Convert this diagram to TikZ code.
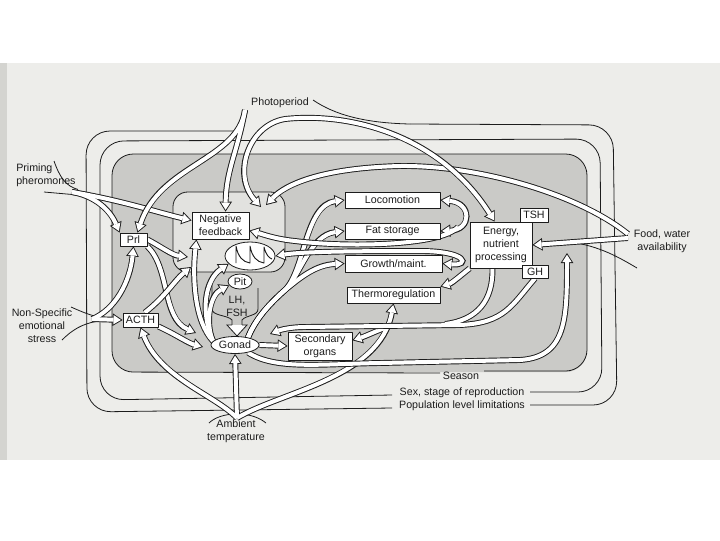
\documentclass[tikz,border=0pt]{standalone}
\usepackage{fontspec}
\setmainfont{Liberation Sans}
\usetikzlibrary{arrows.meta,shapes.geometric}
\pgfdeclarelayer{bg}
\pgfdeclarelayer{mid}
\pgfsetlayers{bg,mid,main}
\definecolor{pagebg}{RGB}{237,237,234}
\definecolor{stripbg}{RGB}{212,212,208}
\definecolor{regbg}{RGB}{202,202,199}
\definecolor{hypbg}{RGB}{226,226,223}
\definecolor{ink}{RGB}{28,28,28}
\tikzset{
  bigtip/.tip={Triangle[length=7.5pt,width=9.5pt,line width=0pt]},
  smalltip/.tip={Triangle[length=5.5pt,width=7pt,line width=0pt]},
  bandout/.style={draw=ink,line width=4.4pt},
  bandin/.style={draw=white,line width=3pt},
  oE/.style={bandout,-{bigtip}},
  iE/.style={bandin,shorten >=1.3pt,-{smalltip}},
  oB/.style={bandout,{bigtip}-{bigtip}},
  iB/.style={bandin,shorten >=1.3pt,shorten <=1.3pt,{smalltip}-{smalltip}},
  oN/.style={bandout},
  iN/.style={bandin},
  thinline/.style={draw=ink,line width=0.6pt},
  box/.style={draw=ink,line width=0.6pt,fill=white,inner sep=0pt,align=center,font=\fontsize{8}{9.75}\selectfont,text=ink},
  oval/.style={box,ellipse},
  lbl/.style={inner sep=0pt,align=center,font=\fontsize{8}{9.75}\selectfont,text=ink},
}
\begin{document}
\begin{tikzpicture}[x=0.75pt,y=-0.75pt,line join=round]
\useasboundingbox (0,0) rectangle (720,540);

% ---------- nodes ----------
\node[box,minimum width=71.25pt,minimum height=12pt] (loco) at (392.5,200) {Locomotion};
\node[box,minimum width=71.25pt,minimum height=12pt] (fat) at (392.5,231) {Fat storage};
\node[box,minimum width=72.75pt,minimum height=12.75pt] (growth) at (393.5,263.5) {Growth/maint.};
\node[box,minimum width=69.75pt,minimum height=12pt] (thermo) at (393.5,295) {Thermoregulation};
\node[box,minimum width=46.5pt,minimum height=34.5pt] (energy) at (501,245) {Energy,\\nutrient\\processing};
\node[box,minimum width=21pt,minimum height=10.5pt] (tsh) at (534,215) {TSH};
\node[box,minimum width=19.5pt,minimum height=9.75pt] (gh) at (535,271.5) {GH};
\node[box,minimum width=42.75pt,minimum height=20.25pt] (nf) at (220.5,225.5) {Negative\\feedback};
\node[box,minimum width=20.25pt,minimum height=9.75pt] (prl) at (133.5,239.5) {Prl};
\node[box,minimum width=26.25pt,minimum height=10.5pt] (acth) at (140.5,320) {ACTH};
\node[box,minimum width=48pt,minimum height=21pt] (sec) at (320,346) {Secondary\\organs};
\node[oval,minimum width=37.5pt,minimum height=21pt] (pulse) at (250,256) {};
\node[oval,minimum width=18pt,minimum height=11.25pt] (pit) at (240,281.5) {Pit};
\node[oval,minimum width=36pt,minimum height=12.75pt] (gonad) at (235,345) {Gonad};

\draw[ink,line width=0.7pt] (236,263) -- (236,246) .. controls (238,257) and (243,262) .. (250,263)
  -- (250,246) .. controls (252,257) and (257,262) .. (264,263)
  -- (264,247) .. controls (266,255) and (269,258) .. (272,259);

\node[lbl] (photo) at (280,103) {Photoperiod};
\node[lbl,align=left,anchor=west] (prime) at (16,175) {Priming\\pheromones};
\node[lbl] (emo) at (42,325.5) {Non-Specific\\emotional\\stress};
\node[lbl] (amb) at (236,431.5) {Ambient\\temperature};
\node[lbl] (food) at (662,241.5) {Food, water\\availability};
\node[lbl] (season) at (461,376) {Season};
\node[lbl] (sexst) at (462,393) {Sex, stage of reproduction};
\node[lbl] (popl) at (462,406) {Population level limitations};

% ---------- background ----------
\begin{pgfonlayer}{bg}
\fill[white] (0,0) rectangle (720,540);
\fill[pagebg] (0,63) rectangle (720,460);
\fill[stripbg] (0,63) rectangle (7,460);
\fill[regbg,rounded corners=16pt] (112,154) rectangle (587,372);
\draw[thinline,rounded corners=16pt] (440,373) -- (112,372) -- (112,154) -- (587,154) -- (587,371) -- (484,371);
\draw[thinline,rounded corners=18pt] (392,395) -- (100,400) -- (100,141) -- (600,139) -- (602,392) -- (530,392);
\draw[thinline,rounded corners=18pt] (392,408) -- (87,412) -- (86,131) -- (242,131);
\draw[thinline] (313,100) .. controls (335,115) and (365,123) .. (410,124);
\draw[thinline,rounded corners=18pt] (410,124) -- (613,125) -- (617,405) -- (530,405);
\node[draw=ink,line width=0.6pt,fill=hypbg,rounded corners=11pt,minimum width=84pt,minimum height=60pt,inner sep=0pt] (hyp) at (229,232) {};
% LH, FSH stalk
\draw[thinline] (212,283) -- (212,309) .. controls (212,316) and (228,315) .. (232,320) -- (232,325);
\draw[thinline] (258,288) -- (258,309) .. controls (258,316) and (246,315) .. (242,320) -- (242,325);
\filldraw[thinline,fill=white] (232,325) -- (227,325) -- (237,336) -- (247,325) -- (242,325);
\node[lbl] (lhfsh) at (237,306.5) {LH,\\FSH};
% flares
\draw[thinline] (54,161) .. controls (60,178) and (66,186) .. (78,189.5);
\draw[thinline] (44,192) -- (78,195);
\draw[thinline] (71,307) .. controls (80,311) and (87,314) .. (96,316.5);
\draw[thinline] (62,340) .. controls (72,330) and (82,324) .. (96,321.5);
\draw[thinline] (209,423) .. controls (214,418) and (224,414) .. (236,414);
\draw[thinline] (266,423) .. controls (260,418) and (250,414) .. (238,414);
\draw[thinline] (570,242) .. controls (600,246) and (620,258) .. (637,268);
\end{pgfonlayer}

% ---------- bands ----------
\def\bFoodE{(628,238) -- (energy.east)}
\def\bFoodN{(628,234) .. controls (580,195) and (480,165) .. (400,166) .. controls (320,168) and (285,185) .. (266,205)}
\def\bAmbA{(237,418) .. controls (215,395) and (160,378) .. (acth.south)}
\def\bAmbG{(237,418) -- (gonad.south)}
\def\bAmbT{(237,418) .. controls (280,392) and (380,378) .. (thermo.south)}
\def\bAmbS{(385,328) .. controls (376,331) and (366,336) .. (sec.10)}
\def\bGonR{(gonad.-30) .. controls (275,370) and (320,364) .. (380,363) -- (520,360) .. controls (566,357) and (567,320) .. (567,253)}
\def\bEnD{(energy.-110) .. controls (493,300) and (478,320) .. (445,324)}
\def\bGHS{(gh.south) .. controls (512,305) and (505,323) .. (460,325) -- (305,327) .. controls (290,327) and (280,330) .. (270,334)}
\def\bGL{(gonad.30) .. controls (255,320) and (268,305) .. (285,290) .. controls (305,270) and (305,205) .. (loco.west)}
\def\bGF{(gonad.30) .. controls (255,320) and (268,305) .. (285,290) .. controls (300,276) and (310,235) .. (fat.west)}
\def\bGG{(gonad.30) .. controls (255,320) and (268,305) .. (285,290) .. controls (300,278) and (315,265) .. (growth.west)}
\def\bLF{(loco.east) .. controls (472,203) and (472,230) .. (fat.east)}
\def\bNFA{(458,227) .. controls (440,247) and (340,247) .. (295,241) .. controls (275,239) and (262,234) .. (nf.-10)}
\def\bPG{(pulse.east) .. controls (300,252) and (340,251) .. (420,251) .. controls (468,251) and (470,266) .. (growth.east)}
\def\bET{(energy.south west) .. controls (460,276) and (452,283) .. (thermo.north east)}
\def\bPrN{(prl.east) .. controls (160,246) and (172,255) .. (188,257)}
\def\bPrG{(prl.south east) .. controls (170,268) and (162,318) .. (196,333)}
\def\bAcN{(acth.60) .. controls (165,297) and (175,280) .. (191,267)}
\def\bAcG{(acth.-20) .. controls (175,334) and (188,343) .. (203,347)}
\def\bGoN{(gonad.170) .. controls (195,322) and (192,280) .. (nf.210)}
\def\bGoP{(gonad.170) .. controls (200,312) and (205,280) .. (pulse.200)}
\def\bGoT{(gonad.170) .. controls (205,322) and (210,295) .. (pit.200)}
\def\bPmN{(72,192) .. controls (120,200) and (160,213) .. (nf.170)}
\def\bPmP{(72,192) .. controls (95,196) and (110,210) .. (prl.north west)}
\def\bEmA{(92,319) -- (acth.west)}
\def\bEmP{(92,319) .. controls (115,310) and (130,282) .. (prl.south)}
\def\bPhP{(245,110) .. controls (238,160) and (160,165) .. (prl.60)}
\def\bPhN{(245,110) .. controls (238,150) and (226,170) .. (nf.70)}
\def\bPhE{(261,207) .. controls (232,175) and (248,125) .. (285,119) .. controls (350,112) and (440,135) .. (energy.105)}
\def\bGoS{(gonad.east) -- (sec.west)}

\begin{pgfonlayer}{mid}
% food
\draw[oE] \bFoodE; \draw[oE] \bFoodN; \draw[iE] \bFoodE; \draw[iE] \bFoodN;
% ambient
\draw[oE] \bAmbA; \draw[oE] \bAmbG; \draw[oE] \bAmbT; \draw[oE] \bAmbS;
\draw[iE] \bAmbA; \draw[iE] \bAmbG; \draw[iE] \bAmbT; \draw[iE] \bAmbS;
% gonad to the right
\draw[oE] \bGonR; \draw[iE] \bGonR;
% energy / GH down
\draw[oN] \bEnD; \draw[oE] \bGHS; \draw[iN] \bEnD; \draw[iE] \bGHS;
% gonad up-right
\draw[oE] \bGL; \draw[oE] \bGF; \draw[oE] \bGG;
\draw[iE] \bGL; \draw[iE] \bGF; \draw[iE] \bGG;
% locomotion-fat loop and band to negative feedback
\draw[oB] \bLF; \draw[oE] \bNFA; \draw[iB] \bLF; \draw[iE] \bNFA;
% pulse - growth
\draw[oB] \bPG; \draw[iB] \bPG;
% energy - thermo
\draw[oE] \bET; \draw[iE] \bET;
% prl / acth
\draw[oE] \bPrN; \draw[iE] \bPrN;
\draw[oE] \bPrG; \draw[iE] \bPrG;
\draw[oE] \bAcN; \draw[iE] \bAcN;
\draw[oE] \bAcG; \draw[iE] \bAcG;
% gonad up-left
\draw[oE] \bGoN; \draw[oE] \bGoP; \draw[oE] \bGoT;
\draw[iE] \bGoN; \draw[iE] \bGoP; \draw[iE] \bGoT;
% priming
\draw[oE] \bPmN; \draw[oE] \bPmP; \draw[iE] \bPmN; \draw[iE] \bPmP;
% emotional stress
\draw[oE] \bEmA; \draw[oE] \bEmP; \draw[iE] \bEmA; \draw[iE] \bEmP;
% photoperiod
\draw[oE] \bPhP; \draw[oE] \bPhN; \draw[iE] \bPhP; \draw[iE] \bPhN;
\draw[oB] \bPhE; \draw[iB] \bPhE;
% gonad to secondary organs
\draw[oE] \bGoS; \draw[iE] \bGoS;
\end{pgfonlayer}
\end{tikzpicture}
\end{document}
